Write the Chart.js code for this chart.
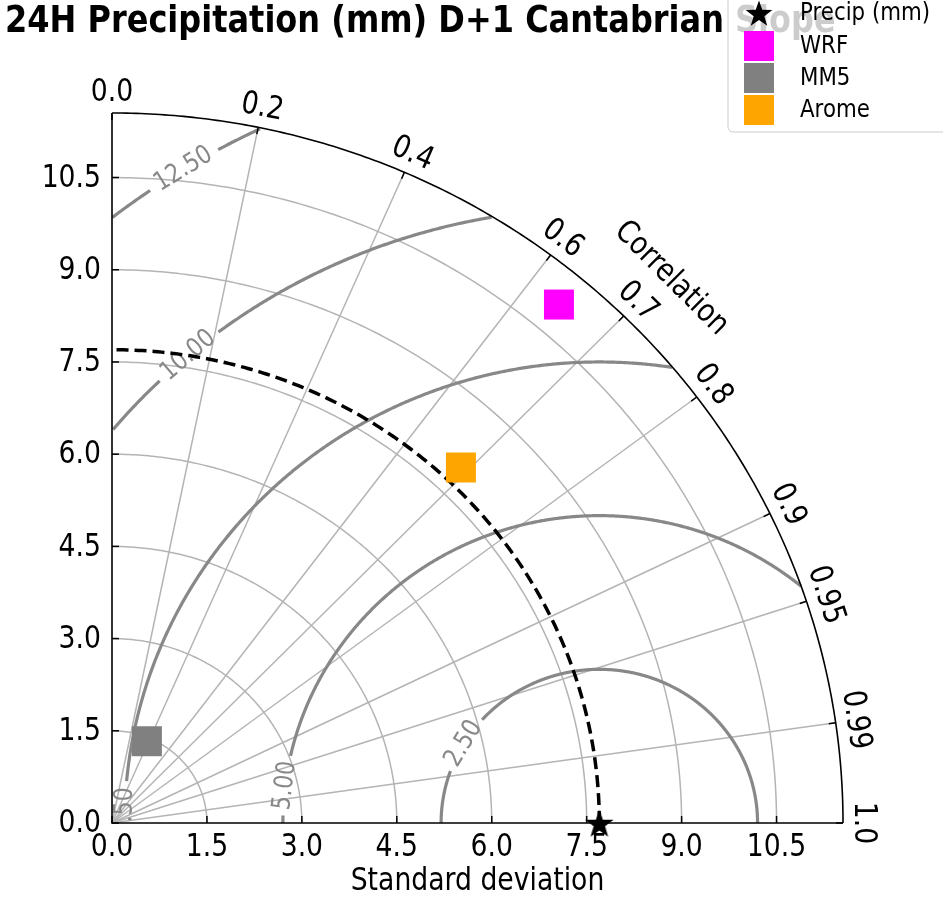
<!DOCTYPE html>
<html>
<head>
<meta charset="utf-8">
<title>24H Precipitation (mm) D+1 Cantabrian Slope</title>
<script src="https://cdn.jsdelivr.net/npm/chart.js@4.4.1/dist/chart.umd.min.js"></script>
<style>
  html, body { margin: 0; padding: 0; background: #fff; }
  #wrap { width: 943px; height: 898px; position: relative; }
</style>
</head>
<body>
<div id="wrap"><canvas id="taylor"></canvas></div>
<script>
const models = ['WRF', 'MM5', 'Arome'];
const modelStd = [11.0, 1.44, 7.99];
const modelCorr = [0.642, 0.383, 0.69];
const refLabel = 'Precip (mm)';
const refStd = 7.7;
const stdTicks = [0, 1.5, 3, 4.5, 6, 7.5, 9, 10.5];
const corrTicks = [0, 0.2, 0.4, 0.6, 0.7, 0.8, 0.9, 0.95, 0.99, 1.0];
const rmsLevels = [2.5, 5, 7.5, 10, 12.5];
const stdMax = 11.55;

const modelColors = ['#ff00ff', '#808080', '#ffa500'];
const FONT = 'DejaVu Sans';
const STRETCH = 1.18; // glyphs are drawn a little taller than wide
// where each rms label sits, in degrees around the reference point
const rmsLabelAngle = { 2.5: 149, 5: 173, 7.5: 178.6, 10: 130.5, 12.5: 121.7 };

function polarPoint(std, corr) {
  const t = Math.acos(corr);
  return { x: std * Math.cos(t), y: std * Math.sin(t) };
}

function starCanvas(size, color) {
  const c = document.createElement('canvas');
  c.width = c.height = size;
  const g = c.getContext('2d');
  g.fillStyle = color;
  g.beginPath();
  const cx = size / 2, cy = size / 2 + size * 0.05, R = size / 2, r = R * 0.4;
  for (let i = 0; i < 10; i++) {
    const a = -Math.PI / 2 + i * Math.PI / 5;
    const rr = i % 2 ? r : R;
    g.lineTo(cx + rr * Math.cos(a), cy + rr * Math.sin(a));
  }
  g.closePath();
  g.fill();
  return c;
}

const starImg = starCanvas(30, '#000');
const legendStar = starCanvas(28, '#000');

// text centred on (x, y), rotated by rot radians
function label(ctx, text, x, y, rot, align) {
  ctx.save();
  ctx.translate(x, y);
  if (rot) ctx.rotate(rot);
  ctx.scale(1, STRETCH);
  ctx.textAlign = align || 'center';
  ctx.textBaseline = 'middle';
  ctx.fillText(text, 0, 0);
  ctx.restore();
}

const taylorGrid = {
  id: 'taylorGrid',
  beforeDatasetsDraw(chart) {
    const { ctx, scales: { x, y }, chartArea } = chart;
    const px = (vx, vy) => [x.getPixelForValue(vx), y.getPixelForValue(vy)];
    const stroke = (pts) => {
      if (pts.length < 2) return;
      ctx.beginPath();
      pts.forEach((p, i) => {
        const [a, b] = px(p[0], p[1]);
        i ? ctx.lineTo(a, b) : ctx.moveTo(a, b);
      });
      ctx.stroke();
    };
    const arc = (r, cx, a0, a1, n) => {
      const pts = [];
      for (let i = 0; i <= n; i++) {
        const a = a0 + (a1 - a0) * i / n;
        pts.push([cx + r * Math.cos(a), r * Math.sin(a)]);
      }
      return pts;
    };

    ctx.save();
    // std dev circles
    ctx.strokeStyle = '#b4b4b4';
    ctx.lineWidth = 1.5;
    stdTicks.filter(r => r > 0).forEach(r => stroke(arc(r, 0, 0, Math.PI / 2, 180)));
    // correlation rays
    corrTicks.filter(c => c > 0 && c < 1).forEach(c => {
      const p = polarPoint(stdMax, c);
      stroke([[0, 0], [p.x, p.y]]);
    });

    // centred rms contours, broken where the label sits
    ctx.font = `22px "${FONT}"`;
    ctx.strokeStyle = '#888888';
    ctx.lineWidth = 3.2;
    rmsLevels.forEach(r => {
      const la = rmsLabelAngle[r] * Math.PI / 180;
      const gap = (ctx.measureText(r.toFixed(2)).width / 2 + 6) / (r * 62.4);
      let seg = [];
      const n = 900;
      for (let i = 0; i <= n; i++) {
        const a = Math.PI * i / n;
        const vx = refStd + r * Math.cos(a), vy = r * Math.sin(a);
        const inside = vx >= 0 && Math.hypot(vx, vy) <= stdMax && Math.abs(a - la) > gap;
        if (inside) seg.push([vx, vy]);
        else { stroke(seg); seg = []; }
      }
      stroke(seg);
    });
    ctx.save();
    ctx.beginPath();
    ctx.rect(chartArea.left, chartArea.top, chartArea.right - chartArea.left, chartArea.bottom - chartArea.top);
    ctx.clip();
    ctx.fillStyle = '#888888';
    rmsLevels.forEach(r => {
      const la = rmsLabelAngle[r] * Math.PI / 180;
      const [lx, ly] = px(refStd + r * Math.cos(la), r * Math.sin(la));
      label(ctx, r.toFixed(2), lx, ly, -(la - Math.PI / 2));
    });
    ctx.restore();

    // reference std arc
    ctx.strokeStyle = '#000';
    ctx.lineWidth = 3.5;
    ctx.setLineDash([12, 6]);
    stroke(arc(refStd, 0, 0, Math.PI / 2, 200));
    ctx.setLineDash([]);

    // frame: axes and outer correlation arc
    ctx.lineWidth = 1.6;
    stroke([[0, stdMax], [0, 0], [stdMax, 0]]);
    stroke(arc(stdMax, 0, 0, Math.PI / 2, 240));

    // ticks
    ctx.lineWidth = 1.5;
    stdTicks.forEach(v => {
      const [ax, ay] = px(v, 0);
      ctx.beginPath(); ctx.moveTo(ax, ay); ctx.lineTo(ax, ay - 7); ctx.stroke();
      const [bx, by] = px(0, v);
      ctx.beginPath(); ctx.moveTo(bx, by); ctx.lineTo(bx + 7, by); ctx.stroke();
    });
    corrTicks.forEach(c => {
      const t = Math.acos(c);
      const p = polarPoint(stdMax, c);
      const [ax, ay] = px(p.x, p.y);
      ctx.beginPath(); ctx.moveTo(ax, ay); ctx.lineTo(ax - 7 * Math.cos(t), ay + 7 * Math.sin(t)); ctx.stroke();
    });
    ctx.restore();
  },
  afterDraw(chart) {
    const { ctx, scales: { x, y }, chartArea } = chart;
    ctx.save();
    ctx.fillStyle = '#000';
    ctx.font = `26.67px "${FONT}"`;

    // std dev tick labels on both axes
    stdTicks.forEach(v => {
      label(ctx, v.toFixed(1), x.getPixelForValue(v), chartArea.bottom + 25);
      label(ctx, v.toFixed(1), chartArea.left - 11, y.getPixelForValue(v) + 1, 0, 'right');
    });
    label(ctx, 'Standard deviation', (chartArea.left + chartArea.right) / 2, 882);

    // correlation labels around the outer arc
    corrTicks.forEach(c => {
      const t = Math.acos(c);
      const p = polarPoint(stdMax, c);
      const lx = x.getPixelForValue(p.x) + 20 * Math.cos(t);
      const ly = y.getPixelForValue(p.y) - 20 * Math.sin(t);
      label(ctx, c === 0 || c === 1 ? c.toFixed(1) : String(c), lx, ly, Math.PI / 2 - t);
    });
    const t45 = Math.PI / 4;
    const cl = polarPoint(stdMax, Math.cos(t45));
    label(ctx, 'Correlation', x.getPixelForValue(cl.x) + 60 * Math.cos(t45),
      y.getPixelForValue(cl.y) - 60 * Math.sin(t45), Math.PI / 2 - t45);

    // title
    ctx.font = `bold 32px "${FONT}"`;
    label(ctx, '24H Precipitation (mm) D+1 Cantabrian Slope', 5, 22, 0, 'left');

    // legend
    ctx.beginPath();
    ctx.roundRect(728, -6, 232, 138, 5);
    ctx.fillStyle = 'rgba(255,255,255,0.8)';
    ctx.fill();
    ctx.strokeStyle = '#cccccc';
    ctx.lineWidth = 1;
    ctx.stroke();
    ctx.drawImage(legendStar, 759 - 14, 13 - 14);
    const rows = [46, 78, 110];
    models.forEach((m, i) => {
      ctx.fillStyle = modelColors[i];
      ctx.fillRect(744, rows[i] - 15, 30, 30);
    });
    ctx.fillStyle = '#000';
    ctx.font = `21.33px "${FONT}"`;
    label(ctx, refLabel, 800, 13, 0, 'left');
    models.forEach((m, i) => label(ctx, m, 800, rows[i], 0, 'left'));
    ctx.restore();
  }
};

new Chart(document.getElementById('taylor'), {
  type: 'scatter',
  data: {
    datasets: [
      ...models.map((m, i) => ({
        label: m,
        data: [polarPoint(modelStd[i], modelCorr[i])],
        pointStyle: 'rect',
        pointRadius: 21.2,
        pointBorderWidth: 0,
        backgroundColor: modelColors[i],
        clip: false
      })),
      {
        label: refLabel,
        data: [{ x: refStd, y: 0 }],
        pointStyle: starImg,
        pointRadius: 15,
        clip: false
      }
    ]
  },
  options: {
    responsive: true,
    maintainAspectRatio: false,
    animation: false,
    events: [],
    layout: { padding: { top: 113, right: 100, bottom: 0, left: 0 } },
    plugins: { legend: { display: false }, tooltip: { enabled: false }, title: { display: false } },
    scales: {
      x: {
        type: 'linear', min: 0, max: stdMax,
        afterFit: s => { s.height = 75; },
        grid: { display: false, drawTicks: false },
        border: { display: false },
        ticks: { display: false }
      },
      y: {
        type: 'linear', min: 0, max: stdMax,
        afterFit: s => { s.width = 112; },
        grid: { display: false, drawTicks: false },
        border: { display: false },
        ticks: { display: false }
      }
    }
  },
  plugins: [taylorGrid]
});
</script>
</body>
</html>
